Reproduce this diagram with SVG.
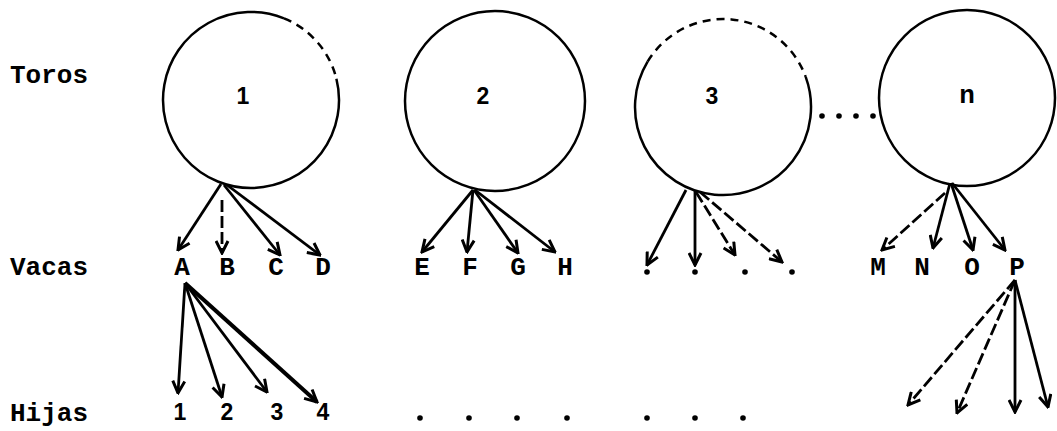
<svg xmlns="http://www.w3.org/2000/svg" width="1057" height="431" viewBox="0 0 1057 431">
<style>
.lbl{font-family:"Courier New","Liberation Mono",monospace;font-weight:bold;font-size:26px;fill:#000}
.let{font-family:"Courier New","Liberation Mono",monospace;font-weight:bold;font-size:26px;fill:#000;text-anchor:middle}
.num{font-family:"Liberation Sans",Arial,sans-serif;font-weight:bold;font-size:23px;fill:#000;text-anchor:middle}
.c{fill:none;stroke:#000;stroke-width:2.5}
.a{stroke:#000;stroke-width:2.8;fill:none;marker-end:url(#ah)}
.d{stroke-dasharray:12 4}
.cd{stroke-dasharray:8 6}
.dot{fill:#000}
</style>
<defs>
<marker id="ah" viewBox="0 0 10 10" refX="9" refY="5" markerWidth="15" markerHeight="15" markerUnits="userSpaceOnUse" orient="auto">
<path d="M1,1 L9,5 L1,9" fill="none" stroke="#000" stroke-width="2"/>
</marker>
</defs>
<g id="labels">
<text class="lbl" x="10" y="83">Toros</text>
<text class="lbl" x="10" y="275">Vacas</text>
<text class="lbl" x="10" y="421">Hijas</text>
</g>
<g id="toro1">
<path class="c" d="M336.4,78.7 A88 88 0 1 1 284,18.4"/>
<path class="c cd" d="M284,18.4 A88 88 0 0 1 336.4,78.7"/>
<text class="num" x="243" y="104">1</text>
</g>
<g id="toro2">
<circle class="c" cx="495" cy="101" r="90"/>
<text class="num" x="483" y="104">2</text>
</g>
<g id="toro3">
<path class="c" d="M805.7,76.9 A88 88 0 1 1 647.6,61.7"/>
<path class="c cd" d="M647.6,61.7 A88 88 0 0 1 805.7,76.9"/>
<text class="num" x="712" y="104">3</text>
</g>
<g id="toron">
<circle class="c" cx="967" cy="98" r="88"/>
<text class="let" x="967" y="103">n</text>
</g>
<g id="ellipsis-toros">
<circle class="dot" cx="822" cy="116" r="2.8"/>
<circle class="dot" cx="839" cy="116" r="2.8"/>
<circle class="dot" cx="856" cy="116" r="2.8"/>
<circle class="dot" cx="873" cy="116" r="2.8"/>
</g>
<g id="vacas">
<text class="let" x="182" y="275">A</text>
<text class="let" x="227" y="275">B</text>
<text class="let" x="276" y="275">C</text>
<text class="let" x="323" y="275">D</text>
<text class="let" x="422" y="275">E</text>
<text class="let" x="470" y="275">F</text>
<text class="let" x="518" y="275">G</text>
<text class="let" x="565" y="275">H</text>
<circle class="dot" cx="647" cy="272" r="2.8"/>
<circle class="dot" cx="695" cy="272" r="2.8"/>
<circle class="dot" cx="745" cy="272" r="2.8"/>
<circle class="dot" cx="792" cy="272" r="2.8"/>
<text class="let" x="878" y="275">M</text>
<text class="let" x="922" y="275">N</text>
<text class="let" x="972" y="275">O</text>
<text class="let" x="1017" y="275">P</text>
</g>
<g id="hijas">
<text class="num" x="180" y="420">1</text>
<text class="num" x="227" y="420">2</text>
<text class="num" x="277" y="420">3</text>
<text class="num" x="323" y="420">4</text>
<circle class="dot" cx="420" cy="418" r="2.8"/>
<circle class="dot" cx="469" cy="418" r="2.8"/>
<circle class="dot" cx="517" cy="418" r="2.8"/>
<circle class="dot" cx="567" cy="418" r="2.8"/>
<circle class="dot" cx="647" cy="418" r="2.8"/>
<circle class="dot" cx="695" cy="418" r="2.8"/>
<circle class="dot" cx="743" cy="418" r="2.8"/>
</g>
<g id="connectors">
<line class="a" x1="221" y1="184" x2="178" y2="250"/>
<line class="a d" x1="222" y1="200" x2="222" y2="253"/>
<line class="a" x1="224" y1="185" x2="280" y2="255"/>
<line class="a" x1="227" y1="185" x2="320" y2="255"/>
<line class="a" x1="473" y1="190" x2="422" y2="252"/>
<line class="a" x1="473" y1="190" x2="467" y2="252"/>
<line class="a" x1="474" y1="190" x2="518" y2="253"/>
<line class="a" x1="475" y1="190" x2="555" y2="252"/>
<line class="a" x1="686" y1="190" x2="647" y2="265"/>
<line class="a" x1="695" y1="190" x2="695" y2="265"/>
<line class="a d" x1="696" y1="192" x2="735" y2="255"/>
<line class="a d" x1="700" y1="192" x2="782" y2="262"/>
<line class="a d" x1="945" y1="193" x2="882" y2="250"/>
<line class="a" x1="950" y1="183" x2="933" y2="248"/>
<line class="a" x1="951" y1="183" x2="973" y2="250"/>
<line class="a" x1="952" y1="183" x2="1005" y2="250"/>
<line class="a" x1="185" y1="283" x2="178" y2="393"/>
<line class="a" x1="185" y1="283" x2="222" y2="397"/>
<line class="a" x1="185" y1="283" x2="267" y2="392"/>
<line class="a" x1="185" y1="283" x2="317" y2="402" style="stroke-width:4"/>
<line class="a d" x1="1015" y1="280" x2="908" y2="405"/>
<line class="a d" x1="1015" y1="280" x2="957" y2="413"/>
<line class="a" x1="1015" y1="280" x2="1015" y2="412"/>
<line class="a" x1="1015" y1="280" x2="1048" y2="407"/>
</g>
</svg>
